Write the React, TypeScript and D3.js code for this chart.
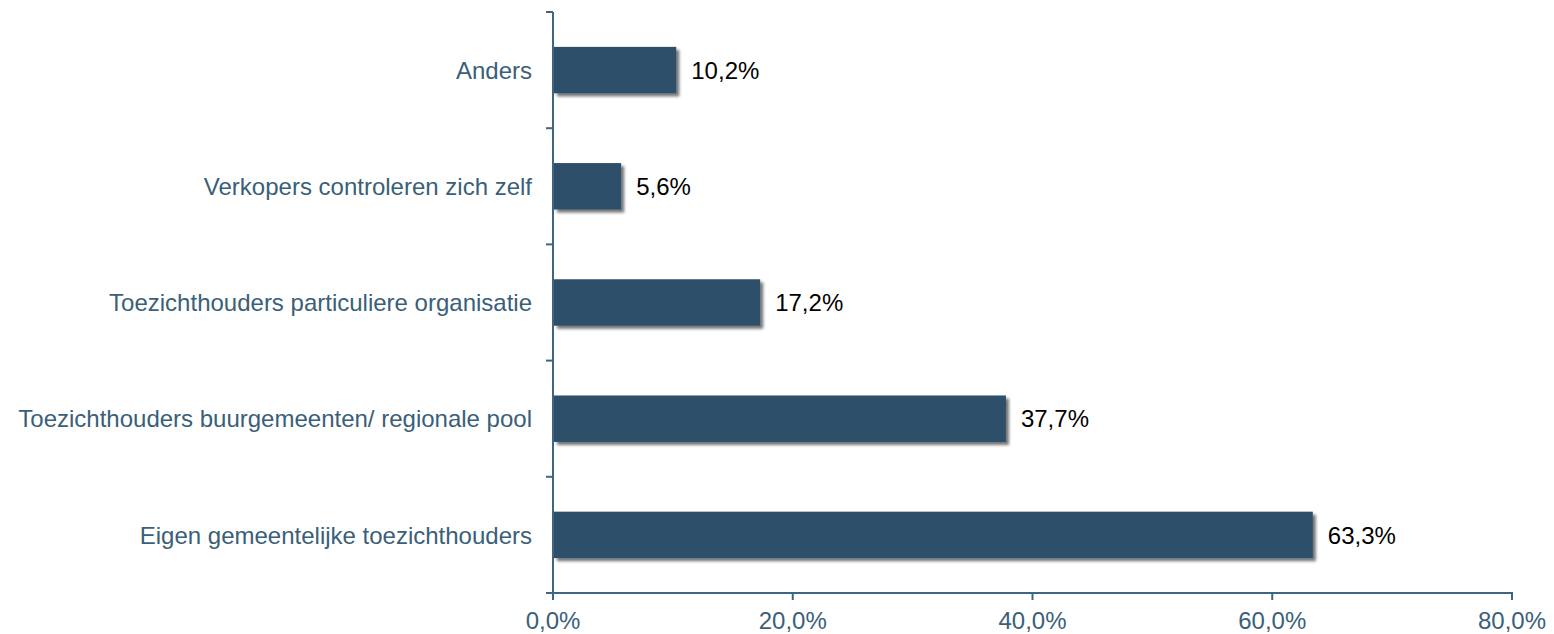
import React from 'react';
import * as d3 from 'd3';

// data, top to bottom
const categories = [
  'Anders',
  'Verkopers controleren zich zelf',
  'Toezichthouders particuliere organisatie',
  'Toezichthouders buurgemeenten/ regionale pool',
  'Eigen gemeentelijke toezichthouders',
];
const values = [10.2, 5.6, 17.2, 37.7, 63.3];
const xTicks = [0, 20, 40, 60, 80];

const W = 1554;
const H = 634;
const margin = { top: 12, right: 42, bottom: 41, left: 553 };
const axisColor = '#3F6580';
const barColor = '#2D5069';
const font = '"Liberation Sans", Arial, sans-serif';
const fontSize = 24;

const fmt = (v: number) => v.toFixed(1).replace('.', ',') + '%';

export default function App() {
  const innerW = W - margin.left - margin.right;
  const innerH = H - margin.top - margin.bottom;

  const x = d3.scaleLinear().domain([0, 80]).range([0, innerW]);
  const y = d3
    .scaleBand<string>()
    .domain(categories)
    .range([0, innerH])
    .paddingInner(0.6)
    .paddingOuter(0.3);

  const step = y.step();
  // category tick marks sit on the band boundaries
  const catTicks = d3.range(categories.length + 1).map((i) => i * step);

  return (
    <svg width={W} height={H} style={{ position: 'absolute', left: 0, top: 0 }}>
      <defs>
        <filter id="shadow" x="-10%" y="-30%" width="130%" height="180%">
          <feGaussianBlur in="SourceAlpha" stdDeviation="1.6" />
          <feOffset dx="3" dy="3" result="blur" />
          <feComponentTransfer>
            <feFuncA type="linear" slope="0.55" />
          </feComponentTransfer>
          <feMerge>
            <feMergeNode />
            <feMergeNode in="SourceGraphic" />
          </feMerge>
        </filter>
      </defs>
      <rect width={W} height={H} fill="#ffffff" />
      <g transform={`translate(${margin.left},${margin.top})`}>
        {/* bars */}
        {categories.map((c, i) => (
          <g key={c}>
            <rect
              x={x(0) + 1}
              y={y(c)!}
              width={x(values[i]) - x(0)}
              height={y.bandwidth()}
              fill={barColor}
              filter="url(#shadow)"
            />
            <text
              x={x(values[i]) + 16}
              y={y(c)! + y.bandwidth() / 2}
              dy="0.36em"
              fontFamily={font}
              fontSize={fontSize}
              fill="#000000"
            >
              {fmt(values[i])}
            </text>
            <text
              x={-21}
              y={y(c)! + y.bandwidth() / 2}
              dy="0.36em"
              textAnchor="end"
              fontFamily={font}
              fontSize={fontSize}
              fill="#3A6079"
            >
              {c}
            </text>
          </g>
        ))}

        {/* y axis */}
        <line x1={0} x2={0} y1={0} y2={innerH} stroke={axisColor} strokeWidth={2} />
        {catTicks.map((t) => (
          <line key={t} x1={-7} x2={0} y1={t} y2={t} stroke={axisColor} strokeWidth={2} />
        ))}

        {/* x axis */}
        <line x1={-7} x2={innerW + 1} y1={innerH} y2={innerH} stroke={axisColor} strokeWidth={2} />
        {xTicks.map((t) => (
          <g key={t} transform={`translate(${x(t)},${innerH})`}>
            <line y1={0} y2={7} stroke={axisColor} strokeWidth={2} />
            <text
              y={27}
              dy="0.36em"
              textAnchor="middle"
              fontFamily={font}
              fontSize={fontSize}
              fill="#3A6079"
            >
              {fmt(t)}
            </text>
          </g>
        ))}
      </g>
    </svg>
  );
}
